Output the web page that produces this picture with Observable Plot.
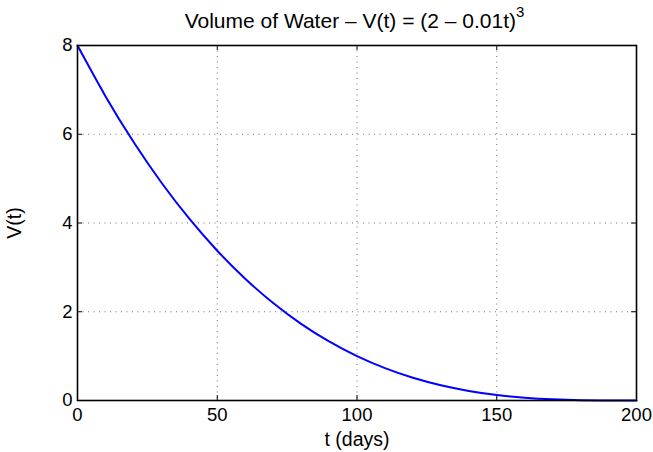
<!DOCTYPE html>
<html>
<head>
<meta charset="utf-8">
<script src="https://cdn.jsdelivr.net/npm/d3@7"></script>
<script src="https://cdn.jsdelivr.net/npm/@observablehq/plot@0.6"></script>
<style>
  body { margin: 0; background: #fff; }
  #chart svg { display: block; }
</style>
</head>
<body>
<div id="chart"></div>
<script>
// Values
const tDays = [0, 10, 20, 30, 40, 50, 60, 70, 80, 90, 100, 110, 120, 130, 140, 150, 160, 170, 180, 190, 200];
const volume = [8, 6.859, 5.832, 4.913, 4.096, 3.375, 2.744, 2.197, 1.728, 1.331, 1.0, 0.729, 0.512, 0.343, 0.216, 0.125, 0.064, 0.027, 0.008, 0.001, 0];
const xTicks = [0, 50, 100, 150, 200];
const yTicks = [0, 2, 4, 6, 8];
const titleText = "Volume of Water \u2013 V(t) = (2 \u2013 0.01t)";
const titleSup = "3";
const xLabel = "t (days)";
const yLabel = "V(t)";

const data = tDays.map((t, i) => ({t, v: volume[i]}));
const font = "'Liberation Sans', Arial, Helvetica, sans-serif";

const W = 653, H = 452;
const mL = 77, mR = 17, mT = 45, mB = 52;
const tickLenX = 5 * 200 / (W - mL - mR); // 5px in x data units
const tickLenY = 5 * 8 / (H - mT - mB);   // 5px in y data units

const fig = Plot.plot({
  width: W,
  height: H,
  marginLeft: mL,
  marginRight: mR,
  marginTop: mT,
  marginBottom: mB,
  style: {fontFamily: font, fontSize: "18.5px", background: "#fff", color: "#000"},
  x: {domain: [0, 200]},
  y: {domain: [0, 8]},
  marks: [
    Plot.gridX(xTicks.slice(1, -1), {stroke: "#000", strokeOpacity: 0.7, strokeDasharray: "1,4.5", strokeWidth: 0.8}),
    Plot.gridY(yTicks.slice(1, -1), {stroke: "#000", strokeOpacity: 0.7, strokeDasharray: "1,4.5", strokeWidth: 0.8}),
    Plot.axisX(xTicks, {tickSize: 0, tickPadding: 7, fontSize: 18.5, label: null}),
    Plot.axisY(yTicks, {tickSize: 0, tickPadding: 5, fontSize: 18.5, label: null}),
    Plot.axisX({tickSize: 0, ticks: [], fontSize: 19.5, label: xLabel, labelAnchor: "center", labelArrow: "none", labelOffset: 45}),
    Plot.axisY({tickSize: 0, ticks: [], fontSize: 19.5, label: yLabel, labelAnchor: "center", labelArrow: "none", labelOffset: 70}),
    // inward tick marks on all four sides
    Plot.ruleX(xTicks, {x: d => d, y1: 0, y2: tickLenY, stroke: "#000", strokeWidth: 1}),
    Plot.ruleX(xTicks, {x: d => d, y1: 8, y2: 8 - tickLenY, stroke: "#000", strokeWidth: 1}),
    Plot.ruleY(yTicks, {y: d => d, x1: 0, x2: tickLenX, stroke: "#000", strokeWidth: 1}),
    Plot.ruleY(yTicks, {y: d => d, x1: 200, x2: 200 - tickLenX, stroke: "#000", strokeWidth: 1}),
    Plot.lineY(data, {x: "t", y: "v", stroke: "#0000ff", strokeWidth: 2, curve: "natural"}),
    Plot.frame({stroke: "#000", strokeWidth: 1.6})
  ]
});

document.getElementById("chart").appendChild(fig);

// Title with superscript, centred over the plot area
const svg = d3.select(fig);
const xs = fig.scale("x");
const cx = (xs.apply(0) + xs.apply(200)) / 2;
const title = svg.append("text")
  .attr("x", cx - 2)
  .attr("y", 28)
  .attr("text-anchor", "middle")
  .attr("font-family", font)
  .attr("font-size", 21)
  .attr("fill", "#000");
title.append("tspan").text(titleText);
title.append("tspan").attr("dy", -11).attr("font-size", 15).text(titleSup);
</script>
</body>
</html>
